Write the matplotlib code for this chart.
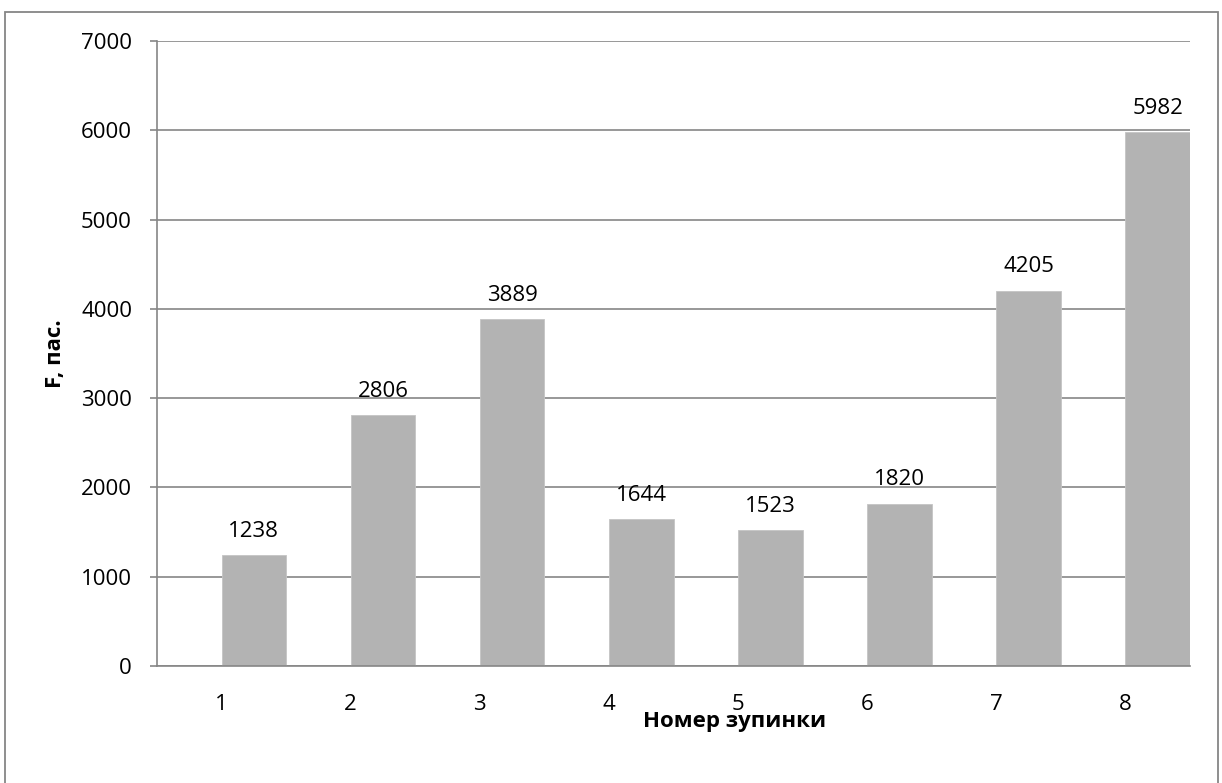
import matplotlib
matplotlib.use('Agg')
import matplotlib.pyplot as plt
from matplotlib.patches import Rectangle

# passengers per stop
stops = [1, 2, 3, 4, 5, 6, 7, 8]
passengers = [1238, 2806, 3889, 1644, 1523, 1820, 4205, 5982]
y_ticks = [0, 1000, 2000, 3000, 4000, 5000, 6000, 7000]

plt.rcParams['font.family'] = ['Open Sans', 'DejaVu Sans']

W, H = 1222, 783
fig = plt.figure(figsize=(W / 100, H / 100), dpi=100)
ax = fig.add_axes([157 / W, 1 - 666 / H, (1190 - 157) / W, (666 - 41) / H])

grey = '#868686'
bar_w = 0.5
bars = ax.bar(stops, passengers, width=bar_w, align='edge', color='#b3b3b3',
              edgecolor='#c4c4c4', linewidth=0.6, zorder=2)

for x, v in zip(stops, passengers):
    ax.annotate(str(v), (x + bar_w / 2, v), xytext=(0, 13), textcoords='offset points',
                ha='center', va='baseline', fontsize=16, color='black')

ax.set_xlim(0.5, 8.5)
ax.set_ylim(0, 7000)
ax.set_yticks(y_ticks)
ax.set_xticks(stops)
ax.yaxis.grid(True, color=grey, linewidth=1.2, zorder=0)
ax.set_axisbelow(True)

for side in ['top', 'right']:
    ax.spines[side].set_visible(False)
for side in ['left', 'bottom']:
    ax.spines[side].set_color(grey)
    ax.spines[side].set_linewidth(1.2)

ax.tick_params(axis='y', length=5, width=1.2, color=grey, pad=13, labelsize=16)
ax.tick_params(axis='x', length=0, pad=20, labelsize=16)

ax.text(-0.0987, 0.5, 'F, пас.', transform=ax.transAxes, rotation=90,
        ha='center', va='center', fontsize=16, fontweight='bold')
ax.text((735 - 157) / 1033, (666 - 727) / 625, 'Номер зупинки', transform=ax.transAxes,
        ha='center', va='baseline', fontsize=16, fontweight='bold')

# chart frame
fig.patches.append(Rectangle((4.5 / W, -0.05), (1217.5 - 4.5) / W, 1.05 - 11.5 / H,
                             transform=fig.transFigure, fill=False, edgecolor=grey,
                             linewidth=1.3))

fig.savefig('out.png', dpi=100)
